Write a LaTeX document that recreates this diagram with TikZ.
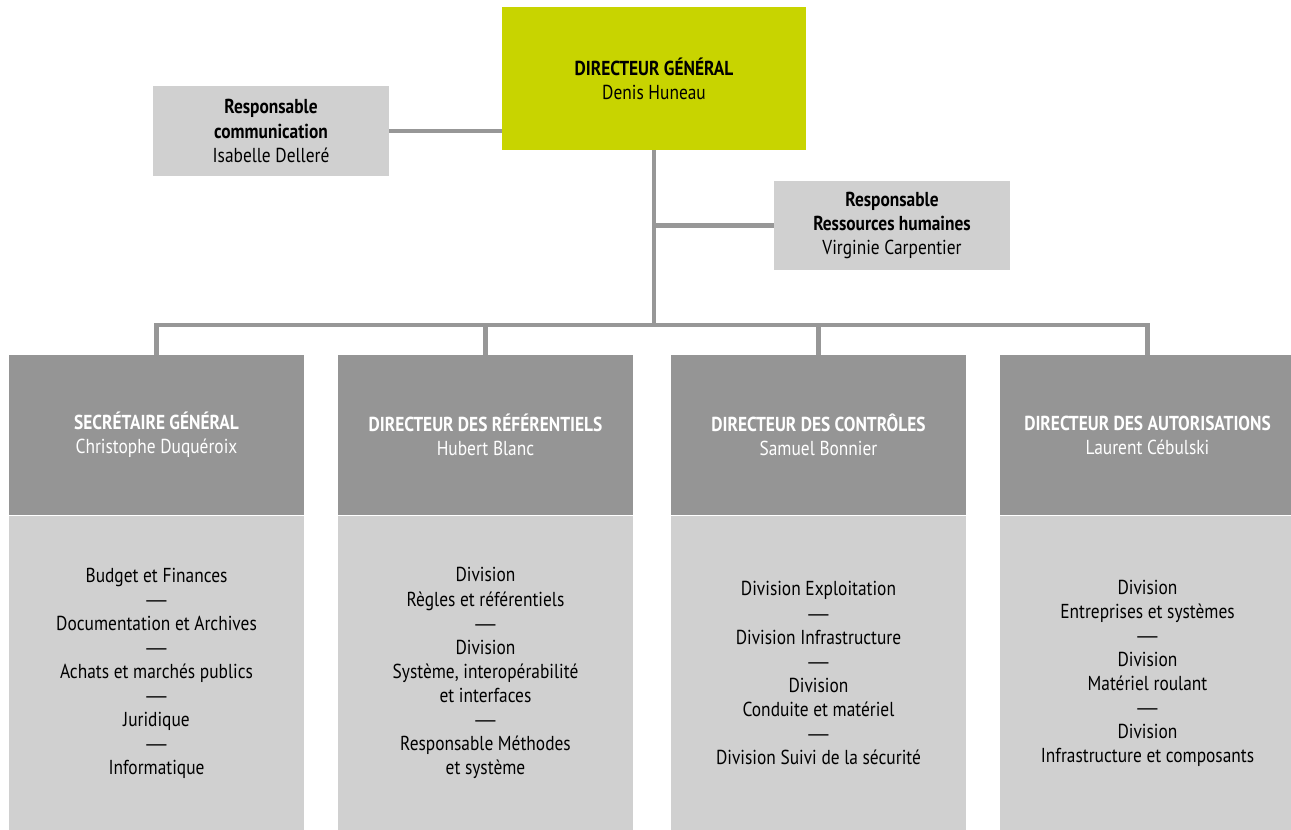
\documentclass[tikz,border=0pt]{standalone}
\usepackage{fontspec}
\setmainfont[FakeStretch=0.86]{PT Sans}
\newfontfamily\dashfont{Liberation Sans}
\usetikzlibrary{positioning}
\definecolor{dgreen}{HTML}{C8D400}
\definecolor{boxlight}{HTML}{D0D0D0}
\definecolor{boxdark}{HTML}{959595}
\definecolor{linkgray}{HTML}{979797}
\newcommand{\sepdash}{{\dashfont —}}
\begin{document}
\begin{tikzpicture}[
    head/.style={rectangle, fill=boxdark, minimum width=5.9cm, minimum height=3.2cm, align=center, text=white, font=\fontsize{11.5}{13.7}\selectfont},
    body/.style={rectangle, fill=boxlight, minimum width=5.9cm, minimum height=6.3cm, align=center, anchor=north, font=\fontsize{11.5}{13.7}\selectfont},
    staff/.style={rectangle, fill=boxlight, minimum width=4.72cm, minimum height=1.8cm, align=center, font=\fontsize{11.5}{13.7}\selectfont},
    link/.style={draw=linkgray, line width=2.8pt}
]
    \useasboundingbox (0,0) rectangle (25.82,-16.6);

    % Directeur general
    \node[rectangle, fill=dgreen, minimum width=6.08cm, minimum height=2.86cm, align=center, font=\fontsize{11.5}{13.7}\selectfont] (dg) at (13.08,-1.57) {\textbf{DIRECTEUR GÉNÉRAL}\\Denis Huneau};

    % Staff
    \node[staff] (comm) at (5.42,-2.62) {\textbf{Responsable}\\\textbf{communication}\\Isabelle Delleré};
    \node[staff, minimum height=1.78cm] (rh) at (17.84,-4.51) {\textbf{Responsable}\\\textbf{Ressources humaines}\\Virginie Carpentier};

    % Directions
    \node[head] (sg) at (3.13,-8.7) {\textbf{SECRÉTAIRE GÉNÉRAL}\\Christophe Duquéroix};
    \node[head] (dr) at (9.71,-8.7) {\textbf{DIRECTEUR DES RÉFÉRENTIELS}\\Hubert Blanc};
    \node[head] (dc) at (16.37,-8.7) {\textbf{DIRECTEUR DES CONTRÔLES}\\Samuel Bonnier};
    \node[head] (da) at (22.95,-8.7) {\textbf{DIRECTEUR DES AUTORISATIONS}\\Laurent Cébulski};

    % Services
    \node[body] (sgbody) at (sg.south) {Budget et Finances\\\sepdash\\Documentation et Archives\\\sepdash\\Achats et marchés publics\\\sepdash\\Juridique\\\sepdash\\Informatique};
    \node[body] (drbody) at (dr.south) {Division\\Règles et référentiels\\\sepdash\\Division\\Système, interopérabilité\\et interfaces\\\sepdash\\Responsable Méthodes\\et système};
    \node[body] (dcbody) at (dc.south) {Division Exploitation\\\sepdash\\Division Infrastructure\\\sepdash\\Division\\Conduite et matériel\\\sepdash\\Division Suivi de la sécurité};
    \node[body] (dabody) at (da.south) {Division\\Entreprises et systèmes\\\sepdash\\Division\\Matériel roulant\\\sepdash\\Division\\Infrastructure et composants};

    % Links
    \coordinate (bus) at (13.08,-6.5);
    \draw[link] (comm.east) -- (comm.east -| dg.west);
    \draw[link] (dg.south) -- (bus);
    \draw[link] (dg.south |- rh.west) -- (rh.west);
    \foreach \n in {sg,dr,dc,da}
        \draw[link] (\n.north) |- (bus);

\end{tikzpicture}
\end{document}
